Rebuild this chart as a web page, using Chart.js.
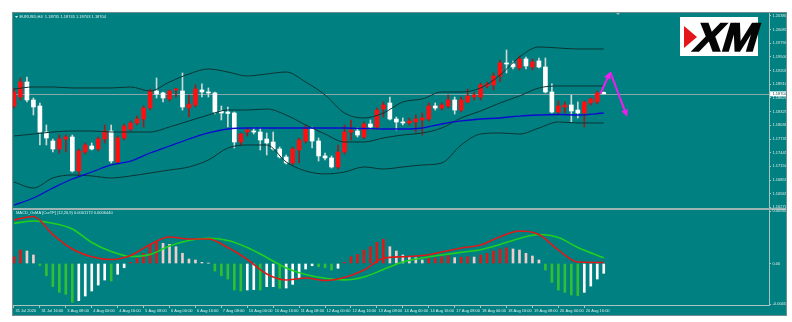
<!DOCTYPE html>
<html>
<head>
<meta charset="utf-8">
<script src="https://cdn.jsdelivr.net/npm/chart.js@4.4.1/dist/chart.umd.min.js"></script>
<style>
  html, body { margin: 0; padding: 0; background: #ffffff; }
  #wrap { position: relative; width: 792px; height: 322px; overflow: hidden; }
  #frame { position: absolute; left: 12px; top: 12px; width: 775px; height: 304px; box-sizing: border-box; border: 1px solid #6f8e8e; background: #008080; }
  #priceChart { position: absolute; left: 13px; top: 8px; }
  #sep { position: absolute; left: 13px; top: 208px; width: 773px; height: 2px; background: #9ab4b4; }
  #macdChart { position: absolute; left: 13px; top: 205px; }
</style>
</head>
<body>
<div id="wrap">
  <div id="frame"></div>
  <canvas id="priceChart" width="773" height="205"></canvas>
  <div id="sep"></div>
  <canvas id="macdChart" width="773" height="110"></canvas>
</div>
<script>
// EURUSD H4 candles, 31 Jul 2020 00:00 .. 21 Aug 2020 04:00
var opens  = [1.18443,1.18636,1.18958,1.18572,1.18443,1.17885,1.17692,1.17521,1.17735,1.17778,
              1.17049,1.17456,1.17585,1.17521,1.17735,1.17907,1.17242,1.17757,1.17950,1.18079,
              1.18164,1.18400,1.18765,1.18723,1.18594,1.18787,1.18765,1.18400,1.18465,1.18787,
              1.18744,1.18723,1.18336,1.18314,1.18293,1.17671,1.17885,1.17907,1.17885,1.17735,
              1.17671,1.17521,1.17349,1.17221,1.17499,1.17692,1.17950,1.17692,1.17371,1.17328,
              1.17135,1.17456,1.17885,1.17907,1.17778,1.18057,1.17993,1.18379,1.18508,1.18164,
              1.18100,1.18079,1.18100,1.18143,1.18164,1.18443,1.18400,1.18443,1.18572,1.18357,
              1.18529,1.18636,1.18636,1.18872,1.18894,1.19087,1.19366,1.19344,1.19259,1.19452,
              1.19280,1.19409,1.19280,1.18744,1.18314,1.18422,1.18465,1.18357,1.18293,1.18508,
              1.18529,1.18735];
var highs  = [1.18830,1.19044,1.19065,1.18615,1.18508,1.18036,1.17735,1.17821,1.17821,1.17821,
              1.17521,1.17650,1.17650,1.17778,1.18036,1.18036,1.17800,1.18057,1.18122,1.18228,
              1.18443,1.18808,1.19044,1.18744,1.18787,1.18830,1.19151,1.18679,1.18894,1.18916,
              1.18830,1.18744,1.18443,1.18422,1.18314,1.17864,1.17971,1.17971,1.17971,1.17864,
              1.17885,1.17564,1.17392,1.17564,1.17757,1.18036,1.17993,1.17757,1.17435,1.17371,
              1.17607,1.18036,1.18143,1.17971,1.18100,1.18143,1.18400,1.18529,1.18636,1.18207,
              1.18186,1.18186,1.18250,1.18293,1.18508,1.18508,1.18508,1.18679,1.18636,1.18636,
              1.18808,1.18744,1.18937,1.18958,1.19151,1.19430,1.19644,1.19409,1.19516,1.19494,
              1.19452,1.19473,1.19473,1.18916,1.18550,1.18529,1.18679,1.18529,1.18550,1.18615,
              1.18765,1.18745];
var lows   = [1.18400,1.18572,1.18529,1.18250,1.17607,1.17607,1.17456,1.17435,1.17456,1.17027,
              1.16963,1.17413,1.17499,1.17478,1.17650,1.17221,1.17199,1.17714,1.17907,1.18036,
              1.17993,1.18357,1.18615,1.18529,1.18550,1.18636,1.18357,1.18207,1.18422,1.18636,
              1.18636,1.18271,1.18143,1.17993,1.17542,1.17607,1.17800,1.17842,1.17499,1.17392,
              1.17499,1.17328,1.17199,1.17178,1.17221,1.17650,1.17542,1.17263,1.17285,1.17113,
              1.17092,1.17413,1.17714,1.17778,1.17735,1.17950,1.17950,1.18207,1.18143,1.17928,
              1.18036,1.18036,1.17885,1.17821,1.18122,1.18357,1.18357,1.18400,1.18271,1.18314,
              1.18508,1.18572,1.18572,1.18830,1.18787,1.18958,1.19151,1.19237,1.19216,1.19237,
              1.19216,1.19259,1.18723,1.18293,1.18271,1.18293,1.18100,1.18186,1.17993,1.18465,
              1.18486,1.18703];
var closes = [1.18744,1.18958,1.18572,1.18422,1.17885,1.17757,1.17521,1.17735,1.17778,1.17049,
              1.17478,1.17607,1.17521,1.17735,1.17907,1.17263,1.17757,1.18014,1.18079,1.18164,
              1.18400,1.18765,1.18701,1.18615,1.18765,1.18808,1.18422,1.18486,1.18808,1.18744,
              1.18723,1.18314,1.18293,1.18283,1.17671,1.17842,1.17928,1.17885,1.17714,1.17650,
              1.17521,1.17349,1.17221,1.17521,1.17714,1.17950,1.17692,1.17371,1.17328,1.17135,
              1.17456,1.17885,1.17928,1.17821,1.18057,1.17993,1.18357,1.18465,1.18164,1.18100,
              1.18079,1.18122,1.18164,1.18186,1.18443,1.18400,1.18465,1.18572,1.18357,1.18572,
              1.18658,1.18679,1.18894,1.18916,1.19087,1.19366,1.19344,1.19280,1.19452,1.19302,
              1.19387,1.19280,1.18744,1.18314,1.18443,1.18465,1.18336,1.18293,1.18529,1.18594,
              1.18723,1.18704];

// indicator lines, sampled every third bar
var lineBars   = [0,3,6,9,12,15,18,21,24,27,30,33,36,39,42,45,48,51,54,57,60,63,66,69,72,75,78,81,84,87,91];
var bbUpper    = [1.18808,1.18851,1.18851,1.18830,1.18830,1.18830,1.18851,1.18765,1.18958,1.19130,1.19237,
                  1.19172,1.19087,1.19130,1.19172,1.18958,1.18679,1.18293,1.18186,1.18293,1.18529,1.18594,
                  1.18744,1.18744,1.18830,1.19108,1.19494,1.19709,1.19687,1.19666,1.19666];
var bbMiddle   = [1.17800,1.17842,1.17885,1.17907,1.17907,1.17885,1.17885,1.17885,1.17993,1.18122,1.18250,
                  1.18357,1.18357,1.18379,1.18250,1.18036,1.17842,1.17671,1.17671,1.17757,1.17821,1.17864,
                  1.17971,1.18186,1.18336,1.18508,1.18658,1.18830,1.18873,1.18873,1.18873];
var bbLower    = [1.16813,1.16684,1.16899,1.16963,1.16942,1.16899,1.16942,1.17006,1.17070,1.17135,1.17285,
                  1.17542,1.17607,1.17607,1.17242,1.17049,1.16985,1.17027,1.17135,1.17092,1.17135,1.17178,
                  1.17221,1.17607,1.17842,1.17864,1.17842,1.17971,1.18100,1.18079,1.18079];
var maLine     = [1.16319,1.16470,1.16684,1.16877,1.17027,1.17178,1.17263,1.17435,1.17585,1.17735,1.17864,
                  1.17950,1.17971,1.17971,1.17971,1.17971,1.17971,1.17971,1.17960,1.17950,1.17950,1.17971,
                  1.18057,1.18122,1.18164,1.18186,1.18228,1.18250,1.18261,1.18250,1.18293];
var macdMain   = [0.00485,0.00524,0.00323,0.00162,0.00076,0.00045,0.00089,0.00212,0.00295,0.00273,0.00273,
                  0.00178,0.00045,-0.00117,-0.00184,-0.00162,-0.00189,-0.00156,-0.00072,0.00058,0.00076,0.00089,
                  0.00128,0.00173,0.00206,0.00299,0.00362,0.00323,0.00150,0.00017,0.00012];
var macdSignal = [0.00448,0.00473,0.00448,0.00384,0.00234,0.00134,0.00078,0.00100,0.00195,0.00256,0.00281,
                  0.00256,0.00178,0.00067,-0.00050,-0.00123,-0.00165,-0.00182,-0.00150,-0.00067,0.00017,0.00061,
                  0.00095,0.00125,0.00154,0.00212,0.00279,0.00323,0.00290,0.00178,0.00064];
var osma = [0.00076,0.00150,0.00139,0.00095,-0.00022,-0.00136,-0.00258,-0.00321,-0.00343,-0.00432,
            -0.00414,-0.00362,-0.00306,-0.00240,-0.00184,-0.00195,-0.00120,-0.00047,0.00013,0.00058,
            0.00114,0.00206,0.00236,0.00225,0.00214,0.00187,0.00114,0.00050,0.00039,0.00013,
            0.00003,-0.00084,-0.00136,-0.00173,-0.00295,-0.00306,-0.00295,-0.00290,-0.00295,-0.00258,
            -0.00258,-0.00276,-0.00273,-0.00232,-0.00158,-0.00061,-0.00025,-0.00036,-0.00047,-0.00072,
            -0.00053,0.00013,0.00076,0.00102,0.00150,0.00187,0.00236,0.00270,0.00187,0.00139,
            0.00095,0.00076,0.00065,0.00039,0.00058,0.00061,0.00076,0.00087,0.00065,0.00070,
            0.00078,0.00072,0.00095,0.00111,0.00139,0.00162,0.00176,0.00162,0.00150,0.00114,
            0.00084,0.00039,-0.00072,-0.00209,-0.00295,-0.00321,-0.00351,-0.00359,-0.00321,-0.00251,
            -0.00173,-0.00109];

// forecast zigzag drawn after the last bar
var arrowBars   = [90.5, 92.0, 94.6];
var arrowPrices = [1.18711, 1.19172, 1.18214];

var priceTicks = [1.20380,1.20085,1.19790,1.19500,1.19205,1.18910,1.18620,1.18325,1.18030,1.17735,1.17445,1.17150,1.16855,1.16565,1.16270];
var macdTicks = [0.00584, 0, -0.00452];
var macdTickText = ['0.005840', '0.00', '-0.00452'];
var timeTickBars = [0,4,8,12,16,20,24,28,32,36,40,44,48,52,56,60,64,68,72,76,80,84,88];
var timeLabels = ['31 Jul 2020','31 Jul 16:00','3 Aug 08:00','4 Aug 00:00','4 Aug 16:00','5 Aug 08:00',
                  '6 Aug 00:00','6 Aug 16:00','7 Aug 08:00','10 Aug 00:00','10 Aug 16:00','11 Aug 08:00',
                  '12 Aug 00:00','12 Aug 16:00','13 Aug 08:00','14 Aug 00:00','14 Aug 16:00','17 Aug 08:00',
                  '18 Aug 00:00','18 Aug 16:00','19 Aug 08:00','20 Aug 00:00','20 Aug 16:00'];

var priceTitle = 'EURUSD,H4  1.18735 1.18745 1.18703 1.18704';
var macdTitle = 'MACD_OsMA [CurTF] (12,26,9) 0.0001172 0.0006440';

var xMin = -0.15, xMax = 116.5;
var axisColor = '#a9c2c2';
var labelColor = '#dfeaea';
var tinyFont = { family: 'Liberation Sans', size: 4 };

function pts(xs, ys) {
    return xs.map(function (b, k) { return { x: b, y: ys[k] }; });
}

var barIdx = opens.map(function (o, i) { return i; });
var isUp = barIdx.map(function (i) { return closes[i] >= opens[i]; });

var priceDecor = {
    id: 'priceDecor',
    beforeDatasetsDraw: function (chart) {
        var ctx = chart.ctx, a = chart.chartArea;
        var yb = Math.round(chart.scales.y.getPixelForValue(closes[closes.length - 1])) + 0.5;
        ctx.save();
        ctx.strokeStyle = '#87a8a8';
        ctx.lineWidth = 1;
        ctx.beginPath();
        ctx.moveTo(a.left, yb);
        ctx.lineTo(a.right, yb);
        ctx.stroke();
        ctx.restore();
    },
    afterDatasetsDraw: function (chart) {
        var ctx = chart.ctx, sx = chart.scales.x, sy = chart.scales.y;
        var p = arrowBars.map(function (b, k) {
            return [sx.getPixelForValue(b), sy.getPixelForValue(arrowPrices[k])];
        });
        ctx.save();
        ctx.strokeStyle = '#f01cf0';
        ctx.fillStyle = '#f01cf0';
        ctx.lineWidth = 2;
        // up leg
        drawArrow(ctx, p[0], p[1]);
        // down leg
        drawArrow(ctx, p[1], p[2]);
        ctx.restore();
    },
    afterDraw: function (chart) {
        var ctx = chart.ctx, a = chart.chartArea;
        ctx.save();
        ctx.fillStyle = '#e6f2f2';
        ctx.beginPath();
        ctx.moveTo(a.left + 2, a.top + 3);
        ctx.lineTo(a.left + 5, a.top + 3);
        ctx.lineTo(a.left + 3.5, a.top + 5);
        ctx.closePath();
        ctx.fill();
        ctx.font = '4px "Liberation Sans"';
        ctx.textBaseline = 'middle';
        ctx.fillText(priceTitle, a.left + 6.5, a.top + 4);

        // chart shift marker
        ctx.fillStyle = '#9fb3b3';
        ctx.beginPath();
        ctx.moveTo(a.left + 603, a.top);
        ctx.lineTo(a.left + 607, a.top);
        ctx.lineTo(a.left + 605, a.top + 2);
        ctx.closePath();
        ctx.fill();

        // XM logo
        var lx = a.right - 89, ly = a.top + 4;
        ctx.fillStyle = '#ffffff';
        ctx.fillRect(lx, ly, 78, 39);
        ctx.fillStyle = '#e3161b';
        ctx.beginPath();
        ctx.moveTo(lx + 4, ly + 9);
        ctx.lineTo(lx + 17, ly + 20);
        ctx.lineTo(lx + 4, ly + 31);
        ctx.closePath();
        ctx.fill();
        ctx.fillStyle = '#050505';
        ctx.font = 'bold 40px "Liberation Sans"';
        ctx.textBaseline = 'alphabetic';
        ctx.save();
        ctx.translate(lx + 12, ly + 34);
        ctx.transform(1.05, 0, -0.3, 1, 0, 0);
        ctx.fillText('XM', 0, 0);
        ctx.lineWidth = 1.5;
        ctx.strokeStyle = '#050505';
        ctx.strokeText('XM', 0, 0);
        ctx.restore();

        // last price tag on the axis
        var yb = chart.scales.y.getPixelForValue(closes[closes.length - 1]);
        ctx.fillStyle = '#ffffff';
        ctx.fillRect(a.right + 1, yb - 2.5, 16, 5);
        ctx.fillStyle = '#0a4a4a';
        ctx.font = '4px "Liberation Sans"';
        ctx.textBaseline = 'middle';
        ctx.fillText(closes[closes.length - 1].toFixed(5), a.right + 3.5, yb);
        ctx.restore();
    }
};

function drawArrow(ctx, from, to) {
    var ang = Math.atan2(to[1] - from[1], to[0] - from[0]);
    var len = 7, half = 3.5;
    var bx = to[0] - len * Math.cos(ang), by = to[1] - len * Math.sin(ang);
    ctx.beginPath();
    ctx.moveTo(from[0], from[1]);
    ctx.lineTo(bx, by);
    ctx.stroke();
    ctx.beginPath();
    ctx.moveTo(to[0], to[1]);
    ctx.lineTo(bx + half * Math.sin(ang), by - half * Math.cos(ang));
    ctx.lineTo(bx - half * Math.sin(ang), by + half * Math.cos(ang));
    ctx.closePath();
    ctx.fill();
}

function bandLine(values, color, width) {
    return {
        type: 'line',
        data: pts(lineBars, values),
        borderColor: color,
        borderWidth: width,
        pointRadius: 0,
        cubicInterpolationMode: 'monotone',
        order: 1
    };
}

new Chart(document.getElementById('priceChart'), {
    type: 'bar',
    data: {
        datasets: [
            bandLine(maLine, '#0b0bd0', 1.3),
            bandLine(bbUpper, '#0d3434', 1),
            bandLine(bbMiddle, '#0d3434', 1),
            bandLine(bbLower, '#0d3434', 1),
            {
                data: barIdx.map(function (i) { return { x: i, y: [opens[i], closes[i]] }; }),
                backgroundColor: isUp.map(function (u) { return u ? '#ff1010' : '#ffffff'; }),
                barThickness: 4,
                minBarLength: 1,
                grouped: false,
                order: 2
            },
            {
                data: barIdx.map(function (i) { return { x: i, y: [lows[i], highs[i]] }; }),
                backgroundColor: isUp.map(function (u) { return u ? '#a11b1b' : '#cfd8d8'; }),
                barThickness: 1,
                grouped: false,
                order: 3
            }
        ]
    },
    options: {
        responsive: false,
        animation: false,
        layout: { padding: { top: 5, bottom: 5, left: 0, right: 0 } },
        plugins: { legend: { display: false }, tooltip: { enabled: false } },
        scales: {
            x: { type: 'linear', min: xMin, max: xMax, offset: false, display: false, grid: { display: false, offset: false } },
            y: {
                position: 'right',
                min: 1.16255,
                max: 1.20438,
                afterBuildTicks: function (s) { s.ticks = priceTicks.map(function (v) { return { value: v }; }); },
                afterFit: function (s) { s.width = 17; },
                ticks: {
                    color: labelColor,
                    font: tinyFont,
                    padding: 1.5,
                    callback: function (v) { return Number(v).toFixed(5); }
                },
                grid: { drawOnChartArea: false, drawTicks: true, tickLength: 2, color: axisColor },
                border: { display: true, color: axisColor }
            }
        }
    },
    plugins: [priceDecor]
});

var histColors = osma.map(function (v, i) {
    var prev = i > 0 ? osma[i - 1] : -Infinity;
    if (v >= 0) return v >= prev ? '#e01818' : '#f2cccc';
    return v < prev ? '#32be32' : '#ffffff';
});

var macdDecor = {
    id: 'macdDecor',
    afterDraw: function (chart) {
        var ctx = chart.ctx, a = chart.chartArea;
        ctx.save();
        ctx.fillStyle = '#e6f2f2';
        ctx.font = '4px "Liberation Sans"';
        ctx.textBaseline = 'middle';
        ctx.fillText(macdTitle, a.left + 3, a.top + 2.5);
        ctx.restore();
    }
};

new Chart(document.getElementById('macdChart'), {
    type: 'bar',
    data: {
        datasets: [
            {
                type: 'line', data: pts(lineBars, macdMain), borderColor: '#e01818', borderWidth: 1.6,
                pointRadius: 0, cubicInterpolationMode: 'monotone', order: 1
            },
            {
                type: 'line', data: pts(lineBars, macdSignal), borderColor: '#20d020', borderWidth: 1.6,
                pointRadius: 0, cubicInterpolationMode: 'monotone', order: 1
            },
            {
                data: osma.map(function (v, i) { return { x: i, y: v }; }),
                backgroundColor: histColors,
                barThickness: 2,
                grouped: false,
                order: 2
            }
        ]
    },
    options: {
        responsive: false,
        animation: false,
        layout: { padding: { top: 5, bottom: 0, left: 0, right: 0 } },
        plugins: { legend: { display: false }, tooltip: { enabled: false } },
        scales: {
            x: {
                type: 'linear', min: xMin, max: xMax, offset: false,
                afterBuildTicks: function (s) { s.ticks = timeTickBars.map(function (v) { return { value: v }; }); },
                afterFit: function (s) { s.height = 10; },
                ticks: {
                    autoSkip: false, maxRotation: 0, minRotation: 0, align: 'start', padding: 0, labelOffset: 1.5,
                    color: labelColor, font: tinyFont,
                    callback: function (v, i) { return timeLabels[i]; }
                },
                grid: { drawOnChartArea: false, drawTicks: true, tickLength: 3, color: axisColor, offset: false },
                border: { display: true, color: axisColor }
            },
            y: {
                position: 'right',
                min: -0.00462,
                max: 0.00596,
                afterBuildTicks: function (s) { s.ticks = macdTicks.map(function (v) { return { value: v }; }); },
                afterFit: function (s) { s.width = 17; },
                ticks: {
                    color: labelColor, font: tinyFont, padding: 1.5,
                    callback: function (v, i) { return macdTickText[i]; }
                },
                grid: { drawOnChartArea: false, drawTicks: true, tickLength: 2, color: axisColor },
                border: { display: true, color: axisColor }
            }
        }
    },
    plugins: [macdDecor]
});
</script>
</body>
</html>
